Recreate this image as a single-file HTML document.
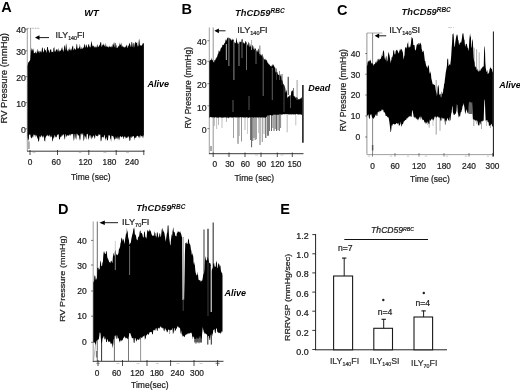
<!DOCTYPE html>
<html>
<head>
<meta charset="utf-8">
<title>Figure</title>
<style>
html,body{margin:0;padding:0;background:#fff;}
body{width:520px;height:390px;overflow:hidden;font-family:"Liberation Sans", sans-serif;}
svg{display:block;font-family:"Liberation Sans", sans-serif;filter:blur(0.4px);}
</style>
</head>
<body>
<svg width="520" height="390" viewBox="0 0 520 390">
<rect x="0" y="0" width="520" height="390" fill="#fff"/>
<text x="1.2" y="12.3" font-size="14.50" text-anchor="start" font-weight="bold" font-style="normal" fill="#000">A</text>
<text x="91.5" y="16.0" font-size="9.40" text-anchor="middle" font-weight="bold" font-style="italic" fill="#000">WT</text>
<line x1="27.3" y1="28.0" x2="27.3" y2="151.0" stroke="#777" stroke-width="0.70"/>
<line x1="27.3" y1="28.3" x2="40.0" y2="28.3" stroke="#777" stroke-width="0.60" stroke-dasharray="1.5 1"/>
<line x1="30.6" y1="28.0" x2="30.6" y2="62.0" stroke="#777" stroke-width="0.70"/>
<line x1="27.0" y1="151.2" x2="144.5" y2="151.2" stroke="#222" stroke-width="0.90"/>
<line x1="37.0" y1="37.6" x2="49.0" y2="37.6" stroke="#000" stroke-width="0.90"/>
<path d="M35.0 37.6 L39.5 35.2 L39.5 40.0 Z" fill="#000"/>
<text x="55.6" y="38.0" font-size="8.80" text-anchor="start" font-weight="normal" font-style="normal" fill="#222" stroke="#222" stroke-width="0.22">ILY<tspan font-size="5.3" dy="2.1">140</tspan><tspan dy="-2.1">FI</tspan></text>
<text x="25.9" y="33.1" font-size="8.70" text-anchor="end" font-weight="normal" font-style="normal" fill="#222" stroke="#222" stroke-width="0.22">40</text>
<text x="25.9" y="54.7" font-size="8.70" text-anchor="end" font-weight="normal" font-style="normal" fill="#222" stroke="#222" stroke-width="0.22">30</text>
<text x="25.9" y="80.5" font-size="8.70" text-anchor="end" font-weight="normal" font-style="normal" fill="#222" stroke="#222" stroke-width="0.22">20</text>
<text x="25.9" y="106.6" font-size="8.70" text-anchor="end" font-weight="normal" font-style="normal" fill="#222" stroke="#222" stroke-width="0.22">10</text>
<text x="25.9" y="132.8" font-size="8.70" text-anchor="end" font-weight="normal" font-style="normal" fill="#222" stroke="#222" stroke-width="0.22">0</text>
<line x1="25.4" y1="29.2" x2="27.3" y2="29.2" stroke="#555" stroke-width="0.70"/>
<line x1="25.4" y1="50.8" x2="27.3" y2="50.8" stroke="#555" stroke-width="0.70"/>
<line x1="25.4" y1="76.6" x2="27.3" y2="76.6" stroke="#555" stroke-width="0.70"/>
<line x1="25.4" y1="102.6" x2="27.3" y2="102.6" stroke="#555" stroke-width="0.70"/>
<line x1="25.4" y1="128.8" x2="27.3" y2="128.8" stroke="#555" stroke-width="0.70"/>
<rect x="28.3" y="141.5" width="1.3" height="7.5" fill="#888"/>
<line x1="30.0" y1="150.0" x2="30.0" y2="155.0" stroke="#222" stroke-width="0.80"/>
<line x1="57.5" y1="150.0" x2="57.5" y2="155.0" stroke="#222" stroke-width="0.80"/>
<line x1="88.8" y1="150.0" x2="88.8" y2="155.0" stroke="#222" stroke-width="0.80"/>
<line x1="116.2" y1="150.0" x2="116.2" y2="155.0" stroke="#222" stroke-width="0.80"/>
<line x1="143.8" y1="150.0" x2="143.8" y2="155.0" stroke="#222" stroke-width="0.80"/>
<text x="30.0" y="165.0" font-size="8.30" text-anchor="middle" font-weight="normal" font-style="normal" fill="#222" stroke="#222" stroke-width="0.22">0</text>
<text x="56.2" y="165.0" font-size="8.30" text-anchor="middle" font-weight="normal" font-style="normal" fill="#222" stroke="#222" stroke-width="0.22">60</text>
<text x="85.5" y="165.0" font-size="8.30" text-anchor="middle" font-weight="normal" font-style="normal" fill="#222" stroke="#222" stroke-width="0.22">120</text>
<text x="109.5" y="165.0" font-size="8.30" text-anchor="middle" font-weight="normal" font-style="normal" fill="#222" stroke="#222" stroke-width="0.22">180</text>
<text x="132.0" y="165.0" font-size="8.30" text-anchor="middle" font-weight="normal" font-style="normal" fill="#222" stroke="#222" stroke-width="0.22">240</text>
<line x1="32.5" y1="152.6" x2="35.5" y2="152.6" stroke="#999" stroke-width="0.50"/>
<line x1="78.5" y1="152.6" x2="81.5" y2="152.6" stroke="#999" stroke-width="0.50"/>
<line x1="103.5" y1="152.6" x2="106.5" y2="152.6" stroke="#999" stroke-width="0.50"/>
<line x1="126.0" y1="152.6" x2="129.0" y2="152.6" stroke="#999" stroke-width="0.50"/>
<text x="90.8" y="180.3" font-size="8.50" text-anchor="middle" font-weight="normal" font-style="normal" fill="#222" stroke="#222" stroke-width="0.22">Time (sec)</text>
<text x="7.2" y="78.3" font-size="8.30" text-anchor="middle" font-weight="normal" font-style="normal" fill="#222" transform="rotate(-90 7.2 78.3)" textLength="90.5" lengthAdjust="spacingAndGlyphs" stroke="#222" stroke-width="0.22">RV Pressure (mmHg)</text>
<text x="147.5" y="87.2" font-size="9.00" text-anchor="start" font-weight="bold" font-style="italic" fill="#000">Alive</text>
<path d="M27.5 66.3 L27.9 64.2 L28.3 62.3 L28.7 62.2 L29.1 61.8 L29.5 60.3 L29.9 61.5 L30.3 59.3 L30.7 54.2 L31.1 47.3 L31.5 51.4 L31.9 48.4 L32.3 49.0 L32.7 50.6 L33.1 50.5 L33.5 48.1 L33.9 53.6 L34.3 52.8 L34.7 52.9 L35.1 53.4 L35.5 51.6 L35.9 52.0 L36.3 53.2 L36.7 53.5 L37.1 48.8 L37.5 52.8 L37.9 48.8 L38.3 51.9 L38.7 50.7 L39.1 53.4 L39.5 51.5 L39.9 50.8 L40.3 52.6 L40.7 50.7 L41.1 50.9 L41.5 52.9 L41.9 48.6 L42.3 47.6 L42.7 47.6 L43.1 51.8 L43.5 51.3 L43.9 52.8 L44.3 47.9 L44.7 48.6 L45.1 50.0 L45.5 50.0 L45.9 50.7 L46.3 53.1 L46.7 51.1 L47.1 47.2 L47.5 47.1 L47.9 47.0 L48.3 50.6 L48.7 49.8 L49.1 52.2 L49.5 52.9 L49.9 50.6 L50.3 48.7 L50.7 50.0 L51.1 49.1 L51.5 52.4 L51.9 51.4 L52.3 51.9 L52.7 51.8 L53.1 52.5 L53.5 47.8 L53.9 48.0 L54.3 46.8 L54.7 51.4 L55.1 51.7 L55.5 51.3 L55.9 50.2 L56.3 49.3 L56.7 49.5 L57.1 49.6 L57.5 49.4 L57.9 52.1 L58.3 51.0 L58.7 47.5 L59.1 51.7 L59.5 49.8 L59.9 52.0 L60.3 49.9 L60.7 51.0 L61.1 50.0 L61.5 47.3 L61.9 49.4 L62.3 46.4 L62.7 50.7 L63.1 48.9 L63.5 51.9 L63.9 50.5 L64.3 44.8 L64.7 46.8 L65.1 44.1 L65.5 51.0 L65.9 47.0 L66.3 42.9 L66.7 47.4 L67.1 51.2 L67.5 49.2 L67.9 51.5 L68.3 51.0 L68.7 48.5 L69.1 49.8 L69.5 49.7 L69.9 46.8 L70.3 51.1 L70.7 49.6 L71.1 48.7 L71.5 50.8 L71.9 48.0 L72.3 46.8 L72.7 45.7 L73.1 45.7 L73.5 50.4 L73.9 49.5 L74.3 48.5 L74.7 48.1 L75.1 50.0 L75.5 49.3 L75.9 49.3 L76.3 46.4 L76.7 43.6 L77.1 44.6 L77.5 48.1 L77.9 48.9 L78.3 48.3 L78.7 48.4 L79.1 47.6 L79.5 46.7 L79.9 43.8 L80.3 47.2 L80.7 49.3 L81.1 49.1 L81.5 48.4 L81.9 46.4 L82.3 48.5 L82.7 48.9 L83.1 47.6 L83.5 47.9 L83.9 46.6 L84.3 44.5 L84.7 43.4 L85.1 47.2 L85.5 47.4 L85.9 44.7 L86.3 44.6 L86.7 45.6 L87.1 47.3 L87.5 47.8 L87.9 46.4 L88.3 44.7 L88.7 44.1 L89.1 44.5 L89.5 47.6 L89.9 46.1 L90.3 47.8 L90.7 46.2 L91.1 42.4 L91.5 40.8 L91.9 43.4 L92.3 45.3 L92.7 46.3 L93.1 46.6 L93.5 46.3 L93.9 45.3 L94.3 47.2 L94.7 47.4 L95.1 45.8 L95.5 47.6 L95.9 47.3 L96.3 47.6 L96.7 46.7 L97.1 44.4 L97.5 44.8 L97.9 47.5 L98.3 46.5 L98.7 46.7 L99.1 46.0 L99.5 44.9 L99.9 44.7 L100.3 42.8 L100.7 42.0 L101.1 42.2 L101.5 46.3 L101.9 47.1 L102.3 44.2 L102.7 45.4 L103.1 44.9 L103.5 44.5 L103.9 43.3 L104.3 45.8 L104.7 45.6 L105.1 47.3 L105.5 45.2 L105.9 42.7 L106.3 46.6 L106.7 46.7 L107.1 45.6 L107.5 47.1 L107.9 47.1 L108.3 47.5 L108.7 47.3 L109.1 45.3 L109.5 47.2 L109.9 46.3 L110.3 47.2 L110.7 46.9 L111.1 45.5 L111.5 47.7 L111.9 46.1 L112.3 47.4 L112.7 44.1 L113.1 44.9 L113.5 42.3 L113.9 45.6 L114.3 47.6 L114.7 42.2 L115.1 42.8 L115.5 43.2 L115.9 47.8 L116.3 48.1 L116.7 44.3 L117.1 46.6 L117.5 48.0 L117.9 48.0 L118.3 45.6 L118.7 46.6 L119.1 46.4 L119.5 42.3 L119.9 45.3 L120.3 45.1 L120.7 44.3 L121.1 42.4 L121.5 44.6 L121.9 47.1 L122.3 46.8 L122.7 45.2 L123.1 46.6 L123.5 46.8 L123.9 47.4 L124.3 47.8 L124.7 46.4 L125.1 47.5 L125.5 46.2 L125.9 46.7 L126.3 45.9 L126.7 44.4 L127.1 45.2 L127.5 48.0 L127.9 47.6 L128.3 45.6 L128.7 45.7 L129.1 44.1 L129.5 42.4 L129.9 43.9 L130.3 44.8 L130.7 46.8 L131.1 47.1 L131.5 41.8 L131.9 42.0 L132.3 42.9 L132.7 46.6 L133.1 47.8 L133.5 43.3 L133.9 42.8 L134.3 43.4 L134.7 47.7 L135.1 43.2 L135.5 41.9 L135.9 41.7 L136.3 43.0 L136.7 42.9 L137.1 42.0 L137.5 47.0 L137.9 45.1 L138.3 46.8 L138.7 41.4 L139.1 38.6 L139.5 41.0 L139.9 45.6 L140.3 45.9 L140.7 44.7 L141.1 45.1 L141.5 45.9 L141.9 45.6 L142.3 42.6 L142.7 45.2 L143.1 43.4 L143.5 43.1 L143.9 43.6 L143.9 134.7 L143.5 135.9 L143.1 138.3 L142.7 137.5 L142.3 135.8 L141.9 136.0 L141.5 136.7 L141.1 135.8 L140.7 135.0 L140.3 136.7 L139.9 138.5 L139.5 137.0 L139.1 135.4 L138.7 138.0 L138.3 136.4 L137.9 135.4 L137.5 135.9 L137.1 136.0 L136.7 136.1 L136.3 137.4 L135.9 137.7 L135.5 137.8 L135.1 137.5 L134.7 137.7 L134.3 140.4 L133.9 136.0 L133.5 136.4 L133.1 135.7 L132.7 136.4 L132.3 137.3 L131.9 135.8 L131.5 138.2 L131.1 137.4 L130.7 136.5 L130.3 140.6 L129.9 140.4 L129.5 141.3 L129.1 137.3 L128.7 135.8 L128.3 137.3 L127.9 137.9 L127.5 136.2 L127.1 137.9 L126.7 137.8 L126.3 138.3 L125.9 136.5 L125.5 139.1 L125.1 136.5 L124.7 137.2 L124.3 135.6 L123.9 139.1 L123.5 138.8 L123.1 136.7 L122.7 136.5 L122.3 136.2 L121.9 136.9 L121.5 136.7 L121.1 137.8 L120.7 135.8 L120.3 136.6 L119.9 136.6 L119.5 138.6 L119.1 140.4 L118.7 138.9 L118.3 137.7 L117.9 136.0 L117.5 140.0 L117.1 137.8 L116.7 139.3 L116.3 136.9 L115.9 138.9 L115.5 138.9 L115.1 136.2 L114.7 141.0 L114.3 139.2 L113.9 138.4 L113.5 136.7 L113.1 136.3 L112.7 136.2 L112.3 135.9 L111.9 135.4 L111.5 135.8 L111.1 142.1 L110.7 139.3 L110.3 138.8 L109.9 136.1 L109.5 135.5 L109.1 135.1 L108.7 135.0 L108.3 136.7 L107.9 140.5 L107.5 140.3 L107.1 140.5 L106.7 136.8 L106.3 138.0 L105.9 141.1 L105.5 138.0 L105.1 139.2 L104.7 134.7 L104.3 135.0 L103.9 137.1 L103.5 136.7 L103.1 138.6 L102.7 137.1 L102.3 136.7 L101.9 137.1 L101.5 140.2 L101.1 141.2 L100.7 141.2 L100.3 134.7 L99.9 134.3 L99.5 135.2 L99.1 134.6 L98.7 134.1 L98.3 135.8 L97.9 136.3 L97.5 135.5 L97.1 136.8 L96.7 135.8 L96.3 136.0 L95.9 135.4 L95.5 134.3 L95.1 137.9 L94.7 139.1 L94.3 137.2 L93.9 135.6 L93.5 135.4 L93.1 136.6 L92.7 138.5 L92.3 136.7 L91.9 136.0 L91.5 138.5 L91.1 139.5 L90.7 136.9 L90.3 134.7 L89.9 136.1 L89.5 134.6 L89.1 138.3 L88.7 138.5 L88.3 140.4 L87.9 134.1 L87.5 134.4 L87.1 133.5 L86.7 134.4 L86.3 139.8 L85.9 138.6 L85.5 136.6 L85.1 136.6 L84.7 135.1 L84.3 138.5 L83.9 141.0 L83.5 140.2 L83.1 133.6 L82.7 133.3 L82.3 134.7 L81.9 135.4 L81.5 133.8 L81.1 133.5 L80.7 133.7 L80.3 140.7 L79.9 137.9 L79.5 141.0 L79.1 135.6 L78.7 134.7 L78.3 136.1 L77.9 135.5 L77.5 134.2 L77.1 133.8 L76.7 133.4 L76.3 139.8 L75.9 138.8 L75.5 137.5 L75.1 133.7 L74.7 133.9 L74.3 138.8 L73.9 141.3 L73.5 138.4 L73.1 133.6 L72.7 134.6 L72.3 133.8 L71.9 134.3 L71.5 134.6 L71.1 133.7 L70.7 134.5 L70.3 136.2 L69.9 133.7 L69.5 136.1 L69.1 134.5 L68.7 136.0 L68.3 135.4 L67.9 135.2 L67.5 135.5 L67.1 135.2 L66.7 136.9 L66.3 136.2 L65.9 133.9 L65.5 134.5 L65.1 138.6 L64.7 139.8 L64.3 137.6 L63.9 135.3 L63.5 134.6 L63.1 134.0 L62.7 135.0 L62.3 136.1 L61.9 134.9 L61.5 136.5 L61.1 136.8 L60.7 137.6 L60.3 136.3 L59.9 139.3 L59.5 139.1 L59.1 140.1 L58.7 134.3 L58.3 134.4 L57.9 134.3 L57.5 135.6 L57.1 134.6 L56.7 137.0 L56.3 137.3 L55.9 137.4 L55.5 137.1 L55.1 135.7 L54.7 134.8 L54.3 136.8 L53.9 138.8 L53.5 137.0 L53.1 139.4 L52.7 141.6 L52.3 140.9 L51.9 136.7 L51.5 137.2 L51.1 135.1 L50.7 136.7 L50.3 137.7 L49.9 134.6 L49.5 137.1 L49.1 134.5 L48.7 135.9 L48.3 136.4 L47.9 135.7 L47.5 135.4 L47.1 134.6 L46.7 135.9 L46.3 135.7 L45.9 137.9 L45.5 136.4 L45.1 142.0 L44.7 140.4 L44.3 141.2 L43.9 135.6 L43.5 137.9 L43.1 135.3 L42.7 137.2 L42.3 137.6 L41.9 135.3 L41.5 136.8 L41.1 134.8 L40.7 136.9 L40.3 137.5 L39.9 135.7 L39.5 137.2 L39.1 140.5 L38.7 141.2 L38.3 142.0 L37.9 138.8 L37.5 138.4 L37.1 137.1 L36.7 134.8 L36.3 137.1 L35.9 134.5 L35.5 137.6 L35.1 134.5 L34.7 135.4 L34.3 134.3 L33.9 137.7 L33.5 134.5 L33.1 134.7 L32.7 138.2 L32.3 136.1 L31.9 138.2 L31.5 138.3 L31.1 137.6 L30.7 137.3 L30.3 134.6 L29.9 134.4 L29.5 135.2 L29.1 133.8 L28.7 142.0 L28.3 138.9 L27.9 140.2 L27.5 135.2Z" fill="#000"/>
<text x="181.5" y="14.0" font-size="14.50" text-anchor="start" font-weight="bold" font-style="normal" fill="#000">B</text>
<text x="235.0" y="16.2" font-size="9.40" text-anchor="start" font-weight="bold" font-style="italic" fill="#111">ThCD59<tspan font-size="6.6" dy="-2.8">RBC</tspan></text>
<line x1="209.3" y1="27.5" x2="209.3" y2="154.0" stroke="#777" stroke-width="0.70"/>
<line x1="213.2" y1="27.5" x2="213.2" y2="153.0" stroke="#666" stroke-width="0.70"/>
<line x1="209.0" y1="153.7" x2="303.5" y2="153.7" stroke="#222" stroke-width="0.90"/>
<line x1="216.4" y1="30.8" x2="225.5" y2="30.8" stroke="#000" stroke-width="0.90"/>
<path d="M214.4 30.8 L218.9 28.4 L218.9 33.2 Z" fill="#000"/>
<text x="237.2" y="32.7" font-size="9.20" text-anchor="start" font-weight="normal" font-style="normal" fill="#222" stroke="#222" stroke-width="0.22">ILY<tspan font-size="5.5" dy="2.1">140</tspan><tspan dy="-2.1">FI</tspan></text>
<text x="206.7" y="44.9" font-size="8.70" text-anchor="end" font-weight="normal" font-style="normal" fill="#222" stroke="#222" stroke-width="0.22">40</text>
<text x="206.7" y="65.3" font-size="8.70" text-anchor="end" font-weight="normal" font-style="normal" fill="#222" stroke="#222" stroke-width="0.22">30</text>
<text x="206.7" y="88.1" font-size="8.70" text-anchor="end" font-weight="normal" font-style="normal" fill="#222" stroke="#222" stroke-width="0.22">20</text>
<text x="206.7" y="110.7" font-size="8.70" text-anchor="end" font-weight="normal" font-style="normal" fill="#222" stroke="#222" stroke-width="0.22">10</text>
<text x="206.7" y="133.2" font-size="8.70" text-anchor="end" font-weight="normal" font-style="normal" fill="#222" stroke="#222" stroke-width="0.22">0</text>
<line x1="207.4" y1="40.7" x2="209.3" y2="40.7" stroke="#555" stroke-width="0.70"/>
<line x1="207.4" y1="61.3" x2="209.3" y2="61.3" stroke="#555" stroke-width="0.70"/>
<line x1="207.4" y1="83.7" x2="209.3" y2="83.7" stroke="#555" stroke-width="0.70"/>
<line x1="207.4" y1="105.8" x2="209.3" y2="105.8" stroke="#555" stroke-width="0.70"/>
<line x1="207.4" y1="128.6" x2="209.3" y2="128.6" stroke="#555" stroke-width="0.70"/>
<line x1="213.2" y1="152.5" x2="213.2" y2="157.0" stroke="#222" stroke-width="0.80"/>
<line x1="229.0" y1="152.5" x2="229.0" y2="157.0" stroke="#222" stroke-width="0.80"/>
<line x1="245.0" y1="152.5" x2="245.0" y2="157.0" stroke="#222" stroke-width="0.80"/>
<line x1="261.0" y1="152.5" x2="261.0" y2="157.0" stroke="#222" stroke-width="0.80"/>
<line x1="277.3" y1="152.5" x2="277.3" y2="157.0" stroke="#222" stroke-width="0.80"/>
<line x1="292.3" y1="152.5" x2="292.3" y2="157.0" stroke="#222" stroke-width="0.80"/>
<text x="214.8" y="167.3" font-size="8.30" text-anchor="middle" font-weight="normal" font-style="normal" fill="#222" stroke="#222" stroke-width="0.22">0</text>
<text x="229.8" y="167.3" font-size="8.30" text-anchor="middle" font-weight="normal" font-style="normal" fill="#222" stroke="#222" stroke-width="0.22">30</text>
<text x="245.3" y="167.3" font-size="8.30" text-anchor="middle" font-weight="normal" font-style="normal" fill="#222" stroke="#222" stroke-width="0.22">60</text>
<text x="261.5" y="167.3" font-size="8.30" text-anchor="middle" font-weight="normal" font-style="normal" fill="#222" stroke="#222" stroke-width="0.22">90</text>
<text x="277.5" y="167.3" font-size="8.30" text-anchor="middle" font-weight="normal" font-style="normal" fill="#222" stroke="#222" stroke-width="0.22">120</text>
<text x="294.5" y="167.3" font-size="8.30" text-anchor="middle" font-weight="normal" font-style="normal" fill="#222" stroke="#222" stroke-width="0.22">150</text>
<line x1="227.3" y1="155.0" x2="230.3" y2="155.0" stroke="#999" stroke-width="0.50"/>
<line x1="255.0" y1="155.0" x2="258.0" y2="155.0" stroke="#999" stroke-width="0.50"/>
<line x1="280.5" y1="155.0" x2="283.5" y2="155.0" stroke="#999" stroke-width="0.50"/>
<rect x="210.3" y="146" width="1.4" height="5" fill="#888"/>
<text x="254.3" y="181.0" font-size="8.50" text-anchor="middle" font-weight="normal" font-style="normal" fill="#222" stroke="#222" stroke-width="0.22">Time (sec)</text>
<text x="190.9" y="87.7" font-size="8.30" text-anchor="middle" font-weight="normal" font-style="normal" fill="#222" transform="rotate(-90 190.9 87.7)" textLength="81.5" lengthAdjust="spacingAndGlyphs" stroke="#222" stroke-width="0.22">RV Pressure (mmHg)</text>
<text x="308.3" y="91.3" font-size="9.00" text-anchor="start" font-weight="bold" font-style="italic" fill="#000">Dead</text>
<line x1="214.3" y1="113.0" x2="214.3" y2="126.0" stroke="#888" stroke-width="0.60"/>
<line x1="216.6" y1="113.0" x2="216.6" y2="129.0" stroke="#999" stroke-width="0.60"/>
<line x1="218.5" y1="113.0" x2="218.5" y2="125.0" stroke="#888" stroke-width="0.60"/>
<line x1="222.0" y1="113.0" x2="222.0" y2="128.0" stroke="#999" stroke-width="0.60"/>
<line x1="226.5" y1="113.0" x2="226.5" y2="122.0" stroke="#888" stroke-width="0.60"/>
<line x1="233.5" y1="113.0" x2="233.5" y2="138.0" stroke="#777" stroke-width="0.70"/>
<line x1="238.0" y1="113.0" x2="238.0" y2="143.8" stroke="#444" stroke-width="0.80"/>
<line x1="239.3" y1="113.0" x2="239.3" y2="136.0" stroke="#888" stroke-width="0.60"/>
<line x1="241.5" y1="113.0" x2="241.5" y2="141.5" stroke="#666" stroke-width="0.70"/>
<line x1="245.0" y1="113.0" x2="245.0" y2="130.0" stroke="#888" stroke-width="0.60"/>
<line x1="247.5" y1="113.0" x2="247.5" y2="134.0" stroke="#999" stroke-width="0.50"/>
<line x1="250.6" y1="113.0" x2="250.6" y2="140.0" stroke="#555" stroke-width="0.90"/>
<line x1="251.6" y1="113.0" x2="251.6" y2="147.3" stroke="#333" stroke-width="0.80"/>
<line x1="252.8" y1="113.0" x2="252.8" y2="141.0" stroke="#555" stroke-width="0.90"/>
<line x1="254.0" y1="113.0" x2="254.0" y2="138.0" stroke="#666" stroke-width="0.90"/>
<line x1="255.2" y1="113.0" x2="255.2" y2="140.0" stroke="#555" stroke-width="0.80"/>
<line x1="256.5" y1="113.0" x2="256.5" y2="139.2" stroke="#777" stroke-width="0.70"/>
<line x1="258.5" y1="113.0" x2="258.5" y2="133.0" stroke="#999" stroke-width="0.50"/>
<line x1="260.0" y1="113.0" x2="260.0" y2="145.0" stroke="#555" stroke-width="0.80"/>
<line x1="262.3" y1="113.0" x2="262.3" y2="142.0" stroke="#666" stroke-width="0.70"/>
<line x1="264.0" y1="113.0" x2="264.0" y2="134.0" stroke="#888" stroke-width="0.60"/>
<line x1="265.8" y1="113.0" x2="265.8" y2="138.0" stroke="#333" stroke-width="0.90"/>
<line x1="268.0" y1="113.0" x2="268.0" y2="135.8" stroke="#222" stroke-width="1.20"/>
<line x1="269.5" y1="113.0" x2="269.5" y2="131.0" stroke="#555" stroke-width="0.80"/>
<line x1="271.5" y1="113.0" x2="271.5" y2="131.0" stroke="#555" stroke-width="0.90"/>
<line x1="272.8" y1="113.0" x2="272.8" y2="128.0" stroke="#777" stroke-width="0.80"/>
<line x1="274.0" y1="113.0" x2="274.0" y2="131.0" stroke="#555" stroke-width="0.90"/>
<line x1="275.3" y1="113.0" x2="275.3" y2="129.0" stroke="#666" stroke-width="0.80"/>
<line x1="276.6" y1="113.0" x2="276.6" y2="131.0" stroke="#444" stroke-width="0.90"/>
<line x1="278.0" y1="113.0" x2="278.0" y2="130.0" stroke="#666" stroke-width="0.80"/>
<line x1="279.3" y1="113.0" x2="279.3" y2="131.0" stroke="#555" stroke-width="0.90"/>
<line x1="280.6" y1="113.0" x2="280.6" y2="128.0" stroke="#666" stroke-width="0.80"/>
<line x1="287.2" y1="113.0" x2="287.2" y2="132.3" stroke="#888" stroke-width="0.60"/>
<line x1="295.8" y1="113.0" x2="295.8" y2="125.4" stroke="#999" stroke-width="0.60"/>
<path d="M209.3 61.4 L209.7 61.1 L210.1 59.7 L210.5 60.0 L210.9 60.6 L211.3 57.4 L211.7 59.7 L212.1 60.2 L212.5 59.4 L212.9 60.7 L213.3 62.4 L213.7 61.7 L214.1 62.4 L214.5 59.7 L214.9 60.2 L215.3 60.3 L215.7 58.6 L216.1 58.4 L216.5 57.8 L216.9 56.7 L217.3 56.4 L217.7 54.3 L218.1 54.2 L218.5 52.2 L218.9 50.1 L219.3 51.1 L219.7 51.7 L220.1 51.3 L220.5 49.0 L220.9 48.2 L221.3 47.3 L221.7 47.7 L222.1 46.7 L222.5 44.6 L222.9 45.0 L223.3 44.9 L223.7 44.8 L224.1 44.2 L224.5 42.7 L224.9 42.9 L225.3 41.4 L225.7 38.9 L226.1 41.1 L226.5 40.1 L226.9 39.2 L227.3 38.3 L227.7 37.4 L228.1 37.5 L228.5 37.7 L228.9 37.7 L229.3 38.5 L229.7 37.7 L230.1 38.4 L230.5 39.7 L230.9 38.3 L231.3 39.9 L231.7 40.8 L232.1 39.4 L232.5 40.0 L232.9 38.6 L233.3 39.6 L233.7 40.3 L234.1 41.8 L234.5 42.4 L234.9 42.8 L235.3 43.3 L235.7 43.0 L236.1 40.1 L236.5 37.2 L236.9 40.8 L237.3 44.2 L237.7 42.1 L238.1 43.1 L238.5 43.7 L238.9 43.9 L239.3 41.0 L239.7 42.5 L240.1 41.9 L240.5 41.4 L240.9 42.2 L241.3 42.1 L241.7 39.1 L242.1 39.5 L242.5 38.4 L242.9 43.0 L243.3 43.2 L243.7 41.4 L244.1 43.9 L244.5 42.8 L244.9 44.1 L245.3 41.1 L245.7 41.5 L246.1 41.6 L246.5 42.8 L246.9 44.5 L247.3 44.0 L247.7 45.3 L248.1 46.1 L248.5 41.8 L248.9 42.4 L249.3 43.5 L249.7 47.1 L250.1 46.7 L250.5 46.1 L250.9 43.9 L251.3 45.1 L251.7 45.2 L252.1 47.9 L252.5 44.7 L252.9 45.6 L253.3 46.6 L253.7 49.0 L254.1 49.7 L254.5 49.6 L254.9 47.5 L255.3 48.4 L255.7 48.7 L256.1 50.6 L256.5 52.0 L256.9 49.9 L257.3 50.2 L257.7 51.6 L258.1 52.6 L258.5 48.4 L258.9 48.7 L259.3 50.2 L259.7 53.2 L260.1 53.6 L260.5 54.4 L260.9 55.3 L261.3 55.8 L261.7 55.0 L262.1 53.7 L262.5 54.8 L262.9 57.6 L263.3 57.7 L263.7 57.7 L264.1 59.2 L264.5 59.7 L264.9 58.7 L265.3 58.8 L265.7 60.3 L266.1 60.0 L266.5 59.5 L266.9 61.2 L267.3 61.6 L267.7 63.0 L268.1 62.7 L268.5 63.9 L268.9 64.2 L269.3 64.4 L269.7 64.7 L270.1 65.9 L270.5 66.3 L270.9 65.5 L271.3 66.8 L271.7 65.9 L272.1 64.1 L272.5 64.9 L272.9 66.1 L273.3 65.5 L273.7 64.1 L274.1 65.7 L274.5 67.2 L274.9 67.6 L275.3 67.7 L275.7 72.3 L276.1 72.4 L276.5 71.8 L276.9 72.0 L277.3 71.7 L277.7 74.1 L278.1 74.5 L278.5 74.9 L278.9 74.8 L279.3 75.4 L279.7 74.1 L280.1 76.7 L280.5 73.8 L280.9 76.0 L281.3 76.2 L281.7 80.1 L282.1 80.4 L282.5 80.5 L282.9 82.7 L283.3 84.5 L283.7 83.8 L284.1 87.3 L284.5 84.5 L284.9 86.6 L285.3 88.4 L285.7 93.2 L286.1 89.2 L286.5 91.1 L286.9 92.1 L287.3 96.9 L287.7 98.1 L288.1 96.7 L288.5 95.7 L288.9 97.0 L289.3 96.2 L289.7 94.7 L290.1 96.5 L290.5 95.3 L290.9 95.4 L291.3 91.0 L291.7 91.7 L292.1 89.7 L292.5 90.7 L292.9 91.2 L293.3 91.7 L293.7 94.4 L294.1 95.8 L294.5 97.0 L294.9 96.1 L295.3 96.9 L295.7 97.9 L296.1 98.6 L296.5 96.9 L296.9 97.1 L297.3 98.1 L297.7 97.4 L298.1 99.2 L298.5 99.6 L298.9 99.0 L299.3 98.8 L299.7 99.7 L300.1 98.1 L300.5 98.4 L300.9 98.9 L301.3 98.3 L301.7 97.0 L302.1 97.7 L302.1 114.2 L301.7 114.6 L301.3 115.3 L300.9 114.4 L300.5 114.5 L300.1 114.3 L299.7 114.5 L299.3 114.3 L298.9 114.7 L298.5 114.6 L298.1 114.3 L297.7 114.7 L297.3 114.1 L296.9 114.1 L296.5 114.1 L296.1 114.1 L295.7 114.4 L295.3 114.2 L294.9 114.8 L294.5 114.1 L294.1 114.5 L293.7 114.2 L293.3 114.5 L292.9 114.7 L292.5 114.1 L292.1 114.1 L291.7 114.7 L291.3 114.3 L290.9 114.4 L290.5 114.2 L290.1 114.5 L289.7 114.2 L289.3 114.6 L288.9 114.0 L288.5 114.6 L288.1 114.6 L287.7 114.1 L287.3 114.1 L286.9 114.1 L286.5 114.0 L286.1 114.4 L285.7 114.1 L285.3 114.0 L284.9 114.4 L284.5 114.2 L284.1 113.9 L283.7 114.0 L283.3 114.2 L282.9 114.8 L282.5 114.1 L282.1 114.7 L281.7 114.5 L281.3 114.7 L280.9 114.3 L280.5 114.3 L280.1 114.5 L279.7 114.3 L279.3 114.3 L278.9 114.5 L278.5 114.9 L278.1 114.8 L277.7 114.7 L277.3 114.8 L276.9 114.7 L276.5 114.5 L276.1 115.0 L275.7 114.4 L275.3 114.7 L274.9 114.7 L274.5 114.6 L274.1 114.7 L273.7 114.8 L273.3 114.6 L272.9 115.6 L272.5 115.3 L272.1 115.4 L271.7 114.9 L271.3 115.8 L270.9 115.3 L270.5 114.9 L270.1 115.3 L269.7 115.2 L269.3 115.0 L268.9 115.5 L268.5 115.7 L268.1 115.1 L267.7 115.5 L267.3 115.5 L266.9 116.2 L266.5 116.9 L266.1 117.0 L265.7 117.9 L265.3 117.7 L264.9 117.5 L264.5 117.3 L264.1 117.9 L263.7 117.7 L263.3 117.3 L262.9 117.2 L262.5 117.4 L262.1 117.3 L261.7 117.8 L261.3 117.2 L260.9 117.6 L260.5 117.4 L260.1 117.6 L259.7 117.1 L259.3 117.6 L258.9 117.6 L258.5 117.5 L258.1 117.7 L257.7 117.3 L257.3 117.7 L256.9 117.1 L256.5 117.3 L256.1 117.7 L255.7 117.1 L255.3 117.7 L254.9 117.2 L254.5 117.3 L254.1 117.3 L253.7 117.9 L253.3 117.6 L252.9 117.1 L252.5 117.3 L252.1 117.6 L251.7 117.2 L251.3 117.2 L250.9 117.2 L250.5 117.3 L250.1 117.5 L249.7 117.3 L249.3 117.6 L248.9 117.5 L248.5 117.9 L248.1 117.7 L247.7 117.4 L247.3 117.6 L246.9 117.1 L246.5 117.8 L246.1 117.1 L245.7 117.7 L245.3 117.3 L244.9 117.9 L244.5 117.2 L244.1 117.3 L243.7 117.3 L243.3 117.7 L242.9 117.7 L242.5 117.2 L242.1 117.1 L241.7 117.6 L241.3 117.2 L240.9 117.1 L240.5 117.6 L240.1 117.2 L239.7 117.4 L239.3 117.2 L238.9 117.5 L238.5 117.7 L238.1 117.1 L237.7 117.3 L237.3 117.4 L236.9 117.5 L236.5 117.6 L236.1 117.2 L235.7 117.4 L235.3 117.5 L234.9 117.2 L234.5 117.5 L234.1 117.1 L233.7 117.3 L233.3 117.3 L232.9 117.7 L232.5 117.6 L232.1 117.5 L231.7 117.4 L231.3 117.4 L230.9 117.6 L230.5 117.3 L230.1 117.3 L229.7 117.1 L229.3 117.7 L228.9 118.4 L228.5 117.7 L228.1 117.6 L227.7 117.4 L227.3 117.7 L226.9 117.3 L226.5 117.9 L226.1 117.6 L225.7 117.7 L225.3 117.1 L224.9 117.2 L224.5 117.3 L224.1 117.8 L223.7 117.1 L223.3 117.9 L222.9 117.7 L222.5 117.8 L222.1 117.3 L221.7 117.5 L221.3 117.7 L220.9 117.6 L220.5 117.4 L220.1 117.3 L219.7 117.2 L219.3 117.6 L218.9 117.2 L218.5 117.4 L218.1 117.9 L217.7 117.6 L217.3 117.7 L216.9 117.5 L216.5 117.2 L216.1 117.5 L215.7 117.4 L215.3 117.1 L214.9 117.3 L214.5 117.8 L214.1 117.4 L213.7 117.6 L213.3 117.2 L212.9 117.1 L212.5 117.4 L212.1 117.7 L211.7 117.1 L211.3 117.5 L210.9 117.1 L210.5 117.1 L210.1 117.2 L209.7 117.7 L209.3 117.6Z" fill="#000"/>
<line x1="288.2" y1="76.8" x2="288.2" y2="95.0" stroke="#222" stroke-width="1.00"/>
<line x1="297.1" y1="80.0" x2="297.1" y2="100.0" stroke="#888" stroke-width="0.80"/>
<line x1="282.0" y1="74.0" x2="282.0" y2="85.0" stroke="#333" stroke-width="0.80"/>
<line x1="276.5" y1="68.5" x2="276.5" y2="80.0" stroke="#444" stroke-width="0.70"/>
<line x1="279.5" y1="71.0" x2="279.5" y2="80.0" stroke="#666" stroke-width="0.70"/>
<line x1="259.8" y1="45.5" x2="259.8" y2="56.0" stroke="#333" stroke-width="0.70"/>
<line x1="293.5" y1="88.0" x2="293.5" y2="96.0" stroke="#555" stroke-width="0.80"/>
<line x1="302.9" y1="85.0" x2="302.9" y2="142.7" stroke="#000" stroke-width="1.40"/>
<line x1="226.4" y1="44.0" x2="226.4" y2="60.0" stroke="#999" stroke-width="1.20"/>
<line x1="228.9" y1="36.5" x2="228.9" y2="66.0" stroke="#eee" stroke-width="0.60"/>
<line x1="233.9" y1="41.0" x2="233.9" y2="80.0" stroke="#eee" stroke-width="0.60"/>
<line x1="239.0" y1="42.0" x2="239.0" y2="66.0" stroke="#aaa" stroke-width="0.80"/>
<line x1="242.0" y1="41.0" x2="242.0" y2="58.0" stroke="#999" stroke-width="0.70"/>
<line x1="246.5" y1="44.0" x2="246.5" y2="70.0" stroke="#bbb" stroke-width="0.60"/>
<line x1="251.5" y1="40.0" x2="251.5" y2="50.0" stroke="#aaa" stroke-width="0.90"/>
<line x1="259.7" y1="46.0" x2="259.7" y2="54.0" stroke="#aaa" stroke-width="0.80"/>
<line x1="263.2" y1="56.0" x2="263.2" y2="96.0" stroke="#999" stroke-width="0.70"/>
<line x1="272.3" y1="68.0" x2="272.3" y2="100.0" stroke="#888" stroke-width="0.70"/>
<line x1="256.0" y1="50.0" x2="256.0" y2="64.0" stroke="#aaa" stroke-width="0.60"/>
<line x1="284.0" y1="86.0" x2="284.0" y2="112.0" stroke="#777" stroke-width="0.60"/>
<line x1="233.0" y1="100.0" x2="233.0" y2="112.0" stroke="#bbb" stroke-width="0.50"/>
<line x1="249.0" y1="96.0" x2="249.0" y2="110.0" stroke="#aaa" stroke-width="0.50"/>
<line x1="290.5" y1="95.0" x2="290.5" y2="108.0" stroke="#888" stroke-width="0.60"/>
<text x="337.0" y="14.8" font-size="14.50" text-anchor="start" font-weight="bold" font-style="normal" fill="#000">C</text>
<text x="401.6" y="15.0" font-size="9.30" text-anchor="start" font-weight="bold" font-style="italic" fill="#111">ThCD59<tspan font-size="6.5" dy="-2.8">RBC</tspan></text>
<line x1="366.9" y1="33.0" x2="366.9" y2="154.0" stroke="#666" stroke-width="0.70"/>
<line x1="366.9" y1="33.0" x2="382.3" y2="33.0" stroke="#777" stroke-width="0.60"/>
<line x1="372.6" y1="33.0" x2="372.6" y2="153.0" stroke="#666" stroke-width="0.80"/>
<line x1="366.6" y1="154.6" x2="493.5" y2="154.6" stroke="#777" stroke-width="0.70"/>
<line x1="493.4" y1="31.5" x2="493.4" y2="156.5" stroke="#111" stroke-width="1.00"/>
<line x1="376.6" y1="35.8" x2="386.2" y2="35.8" stroke="#000" stroke-width="0.90"/>
<path d="M374.6 35.8 L379.1 33.4 L379.1 38.2 Z" fill="#000"/>
<text x="389.2" y="33.3" font-size="9.20" text-anchor="start" font-weight="normal" font-style="normal" fill="#222" stroke="#222" stroke-width="0.22">ILY<tspan font-size="5.5" dy="2.1">140</tspan><tspan dy="-2.1">SI</tspan></text>
<text x="451.2" y="28.6" font-size="3.40" text-anchor="middle" font-weight="bold" font-style="normal" fill="#555">&#183;&#183;&#183;&#183; &#183;</text>
<text x="360.3" y="57.1" font-size="8.50" text-anchor="end" font-weight="normal" font-style="normal" fill="#222" stroke="#222" stroke-width="0.22">40</text>
<text x="360.3" y="77.8" font-size="8.50" text-anchor="end" font-weight="normal" font-style="normal" fill="#222" stroke="#222" stroke-width="0.22">30</text>
<text x="360.3" y="98.1" font-size="8.50" text-anchor="end" font-weight="normal" font-style="normal" fill="#222" stroke="#222" stroke-width="0.22">20</text>
<text x="360.3" y="119.1" font-size="8.50" text-anchor="end" font-weight="normal" font-style="normal" fill="#222" stroke="#222" stroke-width="0.22">10</text>
<text x="360.3" y="140.1" font-size="8.50" text-anchor="end" font-weight="normal" font-style="normal" fill="#222" stroke="#222" stroke-width="0.22">0</text>
<line x1="365.2" y1="53.5" x2="367.0" y2="53.5" stroke="#444" stroke-width="0.70"/>
<line x1="365.2" y1="74.2" x2="367.0" y2="74.2" stroke="#444" stroke-width="0.70"/>
<line x1="365.2" y1="95.0" x2="367.0" y2="95.0" stroke="#444" stroke-width="0.70"/>
<line x1="365.2" y1="116.0" x2="367.0" y2="116.0" stroke="#444" stroke-width="0.70"/>
<line x1="365.2" y1="137.0" x2="367.0" y2="137.0" stroke="#444" stroke-width="0.70"/>
<line x1="372.5" y1="153.0" x2="372.5" y2="156.6" stroke="#555" stroke-width="0.70"/>
<line x1="395.0" y1="153.0" x2="395.0" y2="156.6" stroke="#555" stroke-width="0.70"/>
<line x1="419.0" y1="153.0" x2="419.0" y2="156.6" stroke="#555" stroke-width="0.70"/>
<line x1="444.0" y1="153.0" x2="444.0" y2="156.6" stroke="#555" stroke-width="0.70"/>
<line x1="469.0" y1="153.0" x2="469.0" y2="156.6" stroke="#555" stroke-width="0.70"/>
<line x1="492.5" y1="153.0" x2="492.5" y2="156.6" stroke="#555" stroke-width="0.70"/>
<line x1="367.8" y1="156.2" x2="370.2" y2="156.2" stroke="#999" stroke-width="0.50"/>
<line x1="389.8" y1="156.2" x2="392.2" y2="156.2" stroke="#999" stroke-width="0.50"/>
<line x1="406.8" y1="156.2" x2="409.2" y2="156.2" stroke="#999" stroke-width="0.50"/>
<line x1="424.8" y1="156.2" x2="427.2" y2="156.2" stroke="#999" stroke-width="0.50"/>
<line x1="445.8" y1="156.2" x2="448.2" y2="156.2" stroke="#999" stroke-width="0.50"/>
<line x1="464.8" y1="156.2" x2="467.2" y2="156.2" stroke="#999" stroke-width="0.50"/>
<line x1="486.8" y1="156.2" x2="489.2" y2="156.2" stroke="#999" stroke-width="0.50"/>
<text x="372.5" y="168.5" font-size="8.30" text-anchor="middle" font-weight="normal" font-style="normal" fill="#222" stroke="#222" stroke-width="0.22">0</text>
<text x="395.0" y="168.5" font-size="8.30" text-anchor="middle" font-weight="normal" font-style="normal" fill="#222" stroke="#222" stroke-width="0.22">60</text>
<text x="419.0" y="168.5" font-size="8.30" text-anchor="middle" font-weight="normal" font-style="normal" fill="#222" stroke="#222" stroke-width="0.22">120</text>
<text x="444.0" y="168.5" font-size="8.30" text-anchor="middle" font-weight="normal" font-style="normal" fill="#222" stroke="#222" stroke-width="0.22">180</text>
<text x="469.0" y="168.5" font-size="8.30" text-anchor="middle" font-weight="normal" font-style="normal" fill="#222" stroke="#222" stroke-width="0.22">240</text>
<text x="492.5" y="168.5" font-size="8.30" text-anchor="middle" font-weight="normal" font-style="normal" fill="#222" stroke="#222" stroke-width="0.22">300</text>
<text x="430.0" y="182.3" font-size="8.50" text-anchor="middle" font-weight="normal" font-style="normal" fill="#222" stroke="#222" stroke-width="0.22">Time (sec)</text>
<text x="346.0" y="90.3" font-size="8.30" text-anchor="middle" font-weight="normal" font-style="normal" fill="#222" transform="rotate(-90 346.0 90.3)" textLength="82.5" lengthAdjust="spacingAndGlyphs" stroke="#222" stroke-width="0.22">RV Pressure (mmHg)</text>
<text x="499.3" y="88.2" font-size="9.00" text-anchor="start" font-weight="bold" font-style="italic" fill="#000">Alive</text>
<rect x="371.9" y="145" width="1.4" height="5.5" fill="#555"/>
<line x1="429.2" y1="118.0" x2="429.2" y2="127.7" stroke="#888" stroke-width="0.70"/>
<line x1="436.2" y1="80.0" x2="436.2" y2="134.6" stroke="#888" stroke-width="0.80"/>
<line x1="440.0" y1="100.0" x2="440.0" y2="130.8" stroke="#999" stroke-width="0.80"/>
<line x1="445.4" y1="112.0" x2="445.4" y2="124.6" stroke="#444" stroke-width="0.80"/>
<line x1="473.8" y1="115.0" x2="473.8" y2="126.0" stroke="#777" stroke-width="0.70"/>
<line x1="481.5" y1="115.0" x2="481.5" y2="129.0" stroke="#888" stroke-width="0.70"/>
<line x1="476.5" y1="115.0" x2="476.5" y2="124.0" stroke="#999" stroke-width="0.60"/>
<line x1="486.5" y1="115.0" x2="486.5" y2="126.0" stroke="#999" stroke-width="0.60"/>
<line x1="490.5" y1="118.0" x2="490.5" y2="128.0" stroke="#777" stroke-width="0.60"/>
<line x1="427.5" y1="118.0" x2="427.5" y2="125.0" stroke="#999" stroke-width="0.60"/>
<line x1="474.2" y1="47.7" x2="474.2" y2="70.0" stroke="#888" stroke-width="0.70"/>
<line x1="476.6" y1="49.2" x2="476.6" y2="72.0" stroke="#888" stroke-width="0.70"/>
<line x1="479.2" y1="52.3" x2="479.2" y2="74.0" stroke="#999" stroke-width="0.70"/>
<line x1="433.0" y1="100.0" x2="433.0" y2="126.0" stroke="#999" stroke-width="0.50"/>
<rect x="468.5" y="99" width="3.8" height="15" fill="#666"/>
<path d="M366.9 66.4 L367.3 65.1 L367.7 61.9 L368.1 61.4 L368.5 61.4 L368.9 60.6 L369.3 59.9 L369.7 61.5 L370.1 61.2 L370.5 59.2 L370.9 61.0 L371.3 63.2 L371.7 63.0 L372.1 64.4 L372.5 62.9 L372.9 63.3 L373.3 64.6 L373.7 66.1 L374.1 64.2 L374.5 63.8 L374.9 64.2 L375.3 63.0 L375.7 61.6 L376.1 63.0 L376.5 62.2 L376.9 60.6 L377.3 61.9 L377.7 59.3 L378.1 58.6 L378.5 59.3 L378.9 60.6 L379.3 60.2 L379.7 58.7 L380.1 59.1 L380.5 59.0 L380.9 58.5 L381.3 54.0 L381.7 57.9 L382.1 56.0 L382.5 55.9 L382.9 51.8 L383.3 50.2 L383.7 50.8 L384.1 52.3 L384.5 57.2 L384.9 58.8 L385.3 60.5 L385.7 57.7 L386.1 55.6 L386.5 57.1 L386.9 61.8 L387.3 61.0 L387.7 59.1 L388.1 54.7 L388.5 51.7 L388.9 53.0 L389.3 54.5 L389.7 56.5 L390.1 58.9 L390.5 63.6 L390.9 60.4 L391.3 60.6 L391.7 57.0 L392.1 57.4 L392.5 56.4 L392.9 54.9 L393.3 50.6 L393.7 50.3 L394.1 50.5 L394.5 54.1 L394.9 54.5 L395.3 53.9 L395.7 51.2 L396.1 50.1 L396.5 50.6 L396.9 49.5 L397.3 51.7 L397.7 49.6 L398.1 52.1 L398.5 52.9 L398.9 53.4 L399.3 51.3 L399.7 50.2 L400.1 48.4 L400.5 50.8 L400.9 49.5 L401.3 48.7 L401.7 49.5 L402.1 50.2 L402.5 51.5 L402.9 52.6 L403.3 56.9 L403.7 59.4 L404.1 56.4 L404.5 55.3 L404.9 48.9 L405.3 47.4 L405.7 46.7 L406.1 48.6 L406.5 46.3 L406.9 48.7 L407.3 43.3 L407.7 43.8 L408.1 41.3 L408.5 47.2 L408.9 47.6 L409.3 46.1 L409.7 47.7 L410.1 47.2 L410.5 45.7 L410.9 43.5 L411.3 39.8 L411.7 36.6 L412.1 38.6 L412.5 37.4 L412.9 39.0 L413.3 45.0 L413.7 44.9 L414.1 45.3 L414.5 44.7 L414.9 49.0 L415.3 50.1 L415.7 50.7 L416.1 48.8 L416.5 46.1 L416.9 44.5 L417.3 44.2 L417.7 44.4 L418.1 43.1 L418.5 43.0 L418.9 45.5 L419.3 44.6 L419.7 43.3 L420.1 42.6 L420.5 43.3 L420.9 44.0 L421.3 45.0 L421.7 49.2 L422.1 50.0 L422.5 52.0 L422.9 52.1 L423.3 50.5 L423.7 51.5 L424.1 54.2 L424.5 57.7 L424.9 61.2 L425.3 61.0 L425.7 63.5 L426.1 65.3 L426.5 66.5 L426.9 66.8 L427.3 68.5 L427.7 67.2 L428.1 64.6 L428.5 66.1 L428.9 66.2 L429.3 70.9 L429.7 73.5 L430.1 73.7 L430.5 71.2 L430.9 73.3 L431.3 78.1 L431.7 80.0 L432.1 81.5 L432.5 83.6 L432.9 84.5 L433.3 84.6 L433.7 84.1 L434.1 85.3 L434.5 85.1 L434.9 84.5 L435.3 86.9 L435.7 90.1 L436.1 92.1 L436.5 93.3 L436.9 96.3 L437.3 93.4 L437.7 87.1 L438.1 84.9 L438.5 85.8 L438.9 88.3 L439.3 95.6 L439.7 94.2 L440.1 93.8 L440.5 93.7 L440.9 97.5 L441.3 97.0 L441.7 91.6 L442.1 92.1 L442.5 94.0 L442.9 93.8 L443.3 88.9 L443.7 88.0 L444.1 83.7 L444.5 83.4 L444.9 79.3 L445.3 76.5 L445.7 72.8 L446.1 70.6 L446.5 68.5 L446.9 66.0 L447.3 58.1 L447.7 59.5 L448.1 58.5 L448.5 65.8 L448.9 66.0 L449.3 64.3 L449.7 64.2 L450.1 65.6 L450.5 62.7 L450.9 59.6 L451.3 54.5 L451.7 47.4 L452.1 42.4 L452.5 34.2 L452.9 33.9 L453.3 33.0 L453.7 35.8 L454.1 42.6 L454.5 47.1 L454.9 46.5 L455.3 42.0 L455.7 39.4 L456.1 37.2 L456.5 35.5 L456.9 34.6 L457.3 34.4 L457.7 36.3 L458.1 39.7 L458.5 40.5 L458.9 43.9 L459.3 45.2 L459.7 43.1 L460.1 43.2 L460.5 41.4 L460.9 43.0 L461.3 41.9 L461.7 39.8 L462.1 37.1 L462.5 32.6 L462.9 34.4 L463.3 32.7 L463.7 36.2 L464.1 39.6 L464.5 39.7 L464.9 44.7 L465.3 47.0 L465.7 44.3 L466.1 43.7 L466.5 43.8 L466.9 44.4 L467.3 46.3 L467.7 48.2 L468.1 48.1 L468.5 51.3 L468.9 48.1 L469.3 39.9 L469.7 36.4 L470.1 33.3 L470.5 37.5 L470.9 35.8 L471.3 47.5 L471.7 47.4 L472.1 41.1 L472.5 38.8 L472.9 42.0 L473.3 50.8 L473.7 58.0 L474.1 61.3 L474.5 61.8 L474.9 67.1 L475.3 67.4 L475.7 66.0 L476.1 66.7 L476.5 69.4 L476.9 70.1 L477.3 68.5 L477.7 70.5 L478.1 71.5 L478.5 70.2 L478.9 72.3 L479.3 69.6 L479.7 71.4 L480.1 70.9 L480.5 70.3 L480.9 68.7 L481.3 68.0 L481.7 69.6 L482.1 66.2 L482.5 67.8 L482.9 67.0 L483.3 66.4 L483.7 66.2 L484.1 51.4 L484.5 47.1 L484.9 46.1 L485.3 61.4 L485.7 67.6 L486.1 69.8 L486.5 71.6 L486.9 72.3 L487.3 69.4 L487.7 74.2 L488.1 73.7 L488.5 72.3 L488.9 73.9 L489.3 71.0 L489.7 69.1 L490.1 67.9 L490.5 68.1 L490.9 66.5 L491.3 69.4 L491.7 68.6 L492.1 69.6 L492.5 72.4 L492.9 71.2 L492.9 126.1 L492.5 126.6 L492.1 126.5 L491.7 124.1 L491.3 123.8 L490.9 125.3 L490.5 125.2 L490.1 124.2 L489.7 126.3 L489.3 125.8 L488.9 125.4 L488.5 121.6 L488.1 122.5 L487.7 121.9 L487.3 120.0 L486.9 120.5 L486.5 120.5 L486.1 119.8 L485.7 121.4 L485.3 112.7 L484.9 100.3 L484.5 99.3 L484.1 107.2 L483.7 119.7 L483.3 120.9 L482.9 120.7 L482.5 120.8 L482.1 122.1 L481.7 120.9 L481.3 121.3 L480.9 121.6 L480.5 124.3 L480.1 124.2 L479.7 126.0 L479.3 121.3 L478.9 125.9 L478.5 124.5 L478.1 125.9 L477.7 122.2 L477.3 120.9 L476.9 120.3 L476.5 120.8 L476.1 120.0 L475.7 119.9 L475.3 121.8 L474.9 120.0 L474.5 120.3 L474.1 119.3 L473.7 119.2 L473.3 119.6 L472.9 119.4 L472.5 113.2 L472.1 101.8 L471.7 102.3 L471.3 103.4 L470.9 101.6 L470.5 102.1 L470.1 102.7 L469.7 101.2 L469.3 102.3 L468.9 102.9 L468.5 113.6 L468.1 112.6 L467.7 113.5 L467.3 111.9 L466.9 111.1 L466.5 110.1 L466.1 109.3 L465.7 114.3 L465.3 113.1 L464.9 111.7 L464.5 107.8 L464.1 105.7 L463.7 103.1 L463.3 104.9 L462.9 105.5 L462.5 106.5 L462.1 109.2 L461.7 110.3 L461.3 112.2 L460.9 111.7 L460.5 113.8 L460.1 116.4 L459.7 115.4 L459.3 116.7 L458.9 117.5 L458.5 116.3 L458.1 113.5 L457.7 112.3 L457.3 105.6 L456.9 104.0 L456.5 110.7 L456.1 112.2 L455.7 114.1 L455.3 113.5 L454.9 114.4 L454.5 115.0 L454.1 114.5 L453.7 114.7 L453.3 113.2 L452.9 112.1 L452.5 105.9 L452.1 106.7 L451.7 112.3 L451.3 113.3 L450.9 116.0 L450.5 120.0 L450.1 120.6 L449.7 121.4 L449.3 116.7 L448.9 120.0 L448.5 120.8 L448.1 120.1 L447.7 117.7 L447.3 118.4 L446.9 119.6 L446.5 120.9 L446.1 121.4 L445.7 120.6 L445.3 119.9 L444.9 122.4 L444.5 119.5 L444.1 117.7 L443.7 119.3 L443.3 117.7 L442.9 119.4 L442.5 117.4 L442.1 118.6 L441.7 116.9 L441.3 121.1 L440.9 120.0 L440.5 121.5 L440.1 118.1 L439.7 118.3 L439.3 116.7 L438.9 117.9 L438.5 117.2 L438.1 116.6 L437.7 116.5 L437.3 116.5 L436.9 117.7 L436.5 117.1 L436.1 117.7 L435.7 116.9 L435.3 116.3 L434.9 116.5 L434.5 116.9 L434.1 118.9 L433.7 120.9 L433.3 119.6 L432.9 118.2 L432.5 119.9 L432.1 119.4 L431.7 119.4 L431.3 118.6 L430.9 120.6 L430.5 120.7 L430.1 120.5 L429.7 119.2 L429.3 124.2 L428.9 123.5 L428.5 123.9 L428.1 122.0 L427.7 121.5 L427.3 122.2 L426.9 123.9 L426.5 122.4 L426.1 122.8 L425.7 123.9 L425.3 122.0 L424.9 122.0 L424.5 123.0 L424.1 120.7 L423.7 120.0 L423.3 119.7 L422.9 120.6 L422.5 119.8 L422.1 118.7 L421.7 118.4 L421.3 117.1 L420.9 116.1 L420.5 120.2 L420.1 116.3 L419.7 117.2 L419.3 117.4 L418.9 120.0 L418.5 117.9 L418.1 120.6 L417.7 120.0 L417.3 119.0 L416.9 118.6 L416.5 119.5 L416.1 118.1 L415.7 118.5 L415.3 116.6 L414.9 118.6 L414.5 116.4 L414.1 117.4 L413.7 116.9 L413.3 114.3 L412.9 112.4 L412.5 110.5 L412.1 110.3 L411.7 116.2 L411.3 117.1 L410.9 116.8 L410.5 115.5 L410.1 116.9 L409.7 116.1 L409.3 116.6 L408.9 116.5 L408.5 116.9 L408.1 117.7 L407.7 117.4 L407.3 118.7 L406.9 118.1 L406.5 118.9 L406.1 119.9 L405.7 120.1 L405.3 119.8 L404.9 120.7 L404.5 121.4 L404.1 120.6 L403.7 122.1 L403.3 123.0 L402.9 124.3 L402.5 123.9 L402.1 124.7 L401.7 125.9 L401.3 127.1 L400.9 121.6 L400.5 123.6 L400.1 124.4 L399.7 126.1 L399.3 124.8 L398.9 126.1 L398.5 122.2 L398.1 124.3 L397.7 123.1 L397.3 124.4 L396.9 123.0 L396.5 123.3 L396.1 123.2 L395.7 124.5 L395.3 124.1 L394.9 123.9 L394.5 124.6 L394.1 124.6 L393.7 124.0 L393.3 123.7 L392.9 124.0 L392.5 125.1 L392.1 126.1 L391.7 124.9 L391.3 129.5 L390.9 131.9 L390.5 132.1 L390.1 127.9 L389.7 124.6 L389.3 121.5 L388.9 119.3 L388.5 116.9 L388.1 117.7 L387.7 117.2 L387.3 116.8 L386.9 116.3 L386.5 115.8 L386.1 115.9 L385.7 116.0 L385.3 114.1 L384.9 112.9 L384.5 112.1 L384.1 112.6 L383.7 111.9 L383.3 110.3 L382.9 109.3 L382.5 110.6 L382.1 109.5 L381.7 109.5 L381.3 111.1 L380.9 110.9 L380.5 110.9 L380.1 111.7 L379.7 110.2 L379.3 112.4 L378.9 112.4 L378.5 111.8 L378.1 111.4 L377.7 112.4 L377.3 116.2 L376.9 115.4 L376.5 115.9 L376.1 113.5 L375.7 115.2 L375.3 115.2 L374.9 116.8 L374.5 117.4 L374.1 117.6 L373.7 118.1 L373.3 119.3 L372.9 118.3 L372.5 117.6 L372.1 117.7 L371.7 115.9 L371.3 114.3 L370.9 113.9 L370.5 115.5 L370.1 114.6 L369.7 119.3 L369.3 118.6 L368.9 118.0 L368.5 114.6 L368.1 114.6 L367.7 115.2 L367.3 116.1 L366.9 114.8Z" fill="#000"/>
<text x="58.0" y="214.3" font-size="14.50" text-anchor="start" font-weight="bold" font-style="normal" fill="#000">D</text>
<text x="136.2" y="211.4" font-size="9.30" text-anchor="start" font-weight="bold" font-style="italic" fill="#111">ThCD59<tspan font-size="6.5" dy="-2.8">RBC</tspan></text>
<line x1="93.2" y1="221.5" x2="93.2" y2="362.0" stroke="#777" stroke-width="0.70"/>
<line x1="97.3" y1="221.5" x2="97.3" y2="361.0" stroke="#444" stroke-width="0.80"/>
<line x1="92.8" y1="361.3" x2="223.5" y2="361.3" stroke="#222" stroke-width="0.90"/>
<line x1="101.4" y1="222.7" x2="118.0" y2="222.7" stroke="#000" stroke-width="0.90"/>
<path d="M99.4 222.7 L104.8 220.4 L104.8 225.0 Z" fill="#000"/>
<text x="122.0" y="225.3" font-size="9.20" text-anchor="start" font-weight="normal" font-style="normal" fill="#222" stroke="#222" stroke-width="0.22">ILY<tspan font-size="5.5" dy="2.1">70</tspan><tspan dy="-2.1">FI</tspan></text>
<text x="86.8" y="243.7" font-size="8.50" text-anchor="end" font-weight="normal" font-style="normal" fill="#222" stroke="#222" stroke-width="0.22">40</text>
<text x="86.8" y="268.6" font-size="8.50" text-anchor="end" font-weight="normal" font-style="normal" fill="#222" stroke="#222" stroke-width="0.22">30</text>
<text x="86.8" y="294.1" font-size="8.50" text-anchor="end" font-weight="normal" font-style="normal" fill="#222" stroke="#222" stroke-width="0.22">20</text>
<text x="86.8" y="319.4" font-size="8.50" text-anchor="end" font-weight="normal" font-style="normal" fill="#222" stroke="#222" stroke-width="0.22">10</text>
<text x="86.8" y="345.4" font-size="8.50" text-anchor="end" font-weight="normal" font-style="normal" fill="#222" stroke="#222" stroke-width="0.22">0</text>
<line x1="91.0" y1="240.4" x2="93.2" y2="240.4" stroke="#444" stroke-width="0.70"/>
<line x1="91.0" y1="265.0" x2="93.2" y2="265.0" stroke="#444" stroke-width="0.70"/>
<line x1="91.0" y1="291.0" x2="93.2" y2="291.0" stroke="#444" stroke-width="0.70"/>
<line x1="91.0" y1="316.2" x2="93.2" y2="316.2" stroke="#444" stroke-width="0.70"/>
<line x1="91.0" y1="342.3" x2="93.2" y2="342.3" stroke="#444" stroke-width="0.70"/>
<line x1="98.0" y1="360.0" x2="98.0" y2="366.0" stroke="#222" stroke-width="0.80"/>
<line x1="122.5" y1="360.0" x2="122.5" y2="366.0" stroke="#222" stroke-width="0.80"/>
<line x1="147.0" y1="360.0" x2="147.0" y2="366.0" stroke="#222" stroke-width="0.80"/>
<line x1="170.6" y1="360.0" x2="170.6" y2="366.0" stroke="#222" stroke-width="0.80"/>
<line x1="194.0" y1="360.0" x2="194.0" y2="366.0" stroke="#222" stroke-width="0.80"/>
<line x1="217.6" y1="360.0" x2="217.6" y2="366.0" stroke="#222" stroke-width="0.80"/>
<line x1="96.3" y1="363.3" x2="99.7" y2="363.3" stroke="#444" stroke-width="0.60"/>
<line x1="215.6" y1="363.3" x2="219.6" y2="363.3" stroke="#333" stroke-width="0.70"/>
<line x1="116.5" y1="363.5" x2="119.5" y2="363.5" stroke="#999" stroke-width="0.50"/>
<line x1="136.5" y1="363.5" x2="139.5" y2="363.5" stroke="#999" stroke-width="0.50"/>
<line x1="155.8" y1="363.5" x2="158.8" y2="363.5" stroke="#999" stroke-width="0.50"/>
<line x1="176.5" y1="363.5" x2="179.5" y2="363.5" stroke="#999" stroke-width="0.50"/>
<line x1="199.5" y1="363.5" x2="202.5" y2="363.5" stroke="#999" stroke-width="0.50"/>
<text x="97.0" y="376.0" font-size="8.30" text-anchor="middle" font-weight="normal" font-style="normal" fill="#222" stroke="#222" stroke-width="0.22">0</text>
<text x="116.6" y="376.0" font-size="8.30" text-anchor="middle" font-weight="normal" font-style="normal" fill="#222" stroke="#222" stroke-width="0.22">60</text>
<text x="137.2" y="376.0" font-size="8.30" text-anchor="middle" font-weight="normal" font-style="normal" fill="#222" stroke="#222" stroke-width="0.22">120</text>
<text x="156.8" y="376.0" font-size="8.30" text-anchor="middle" font-weight="normal" font-style="normal" fill="#222" stroke="#222" stroke-width="0.22">180</text>
<text x="177.4" y="376.0" font-size="8.30" text-anchor="middle" font-weight="normal" font-style="normal" fill="#222" stroke="#222" stroke-width="0.22">240</text>
<text x="197.0" y="376.0" font-size="8.30" text-anchor="middle" font-weight="normal" font-style="normal" fill="#222" stroke="#222" stroke-width="0.22">300</text>
<text x="149.8" y="387.5" font-size="8.50" text-anchor="middle" font-weight="normal" font-style="normal" fill="#222" stroke="#222" stroke-width="0.22">Time(sec)</text>
<text x="64.6" y="278.6" font-size="8.00" text-anchor="middle" font-weight="normal" font-style="normal" fill="#222" transform="rotate(-90 64.6 278.6)" textLength="86.5" lengthAdjust="spacingAndGlyphs" stroke="#222" stroke-width="0.22">RV Pressure (mmHg)</text>
<text x="224.5" y="296.3" font-size="9.00" text-anchor="start" font-weight="bold" font-style="italic" fill="#000">Alive</text>
<line x1="101.6" y1="330.0" x2="101.6" y2="361.0" stroke="#333" stroke-width="1.00"/>
<line x1="114.4" y1="330.0" x2="114.4" y2="361.0" stroke="#444" stroke-width="0.80"/>
<line x1="128.5" y1="330.0" x2="128.5" y2="361.0" stroke="#555" stroke-width="0.80"/>
<line x1="140.6" y1="330.0" x2="140.6" y2="361.0" stroke="#777" stroke-width="0.80"/>
<line x1="93.6" y1="360" x2="96.8" y2="336" stroke="#888" stroke-width="0.6"/>
<rect x="95.9" y="351" width="1.2" height="6.5" fill="#777"/>
<rect x="194.2" y="330" width="7.8" height="12.5" fill="#555"/>
<line x1="207.8" y1="320.0" x2="207.8" y2="344.6" stroke="#222" stroke-width="1.00"/>
<line x1="211.3" y1="320.0" x2="211.3" y2="344.6" stroke="#222" stroke-width="1.00"/>
<line x1="209.5" y1="320.0" x2="209.5" y2="340.0" stroke="#555" stroke-width="0.80"/>
<line x1="169.6" y1="320.0" x2="169.6" y2="334.0" stroke="#555" stroke-width="0.60"/>
<line x1="196.0" y1="320.0" x2="196.0" y2="344.0" stroke="#666" stroke-width="0.80"/>
<line x1="199.0" y1="320.0" x2="199.0" y2="343.5" stroke="#777" stroke-width="0.80"/>
<line x1="204.0" y1="229.6" x2="204.0" y2="330.0" stroke="#666" stroke-width="1.30"/>
<line x1="208.0" y1="228.8" x2="208.0" y2="330.0" stroke="#777" stroke-width="2.00"/>
<line x1="213.2" y1="222.4" x2="213.2" y2="330.0" stroke="#444" stroke-width="1.20"/>
<path d="M93.3 282.6 L93.7 281.7 L94.1 280.4 L94.5 274.6 L94.9 276.3 L95.3 276.0 L95.7 279.5 L96.1 279.9 L96.5 278.3 L96.9 278.8 L97.3 268.0 L97.7 268.1 L98.1 267.4 L98.5 267.9 L98.9 269.9 L99.3 269.0 L99.7 269.3 L100.1 263.2 L100.5 261.3 L100.9 260.5 L101.3 266.5 L101.7 265.8 L102.1 265.8 L102.5 262.2 L102.9 262.1 L103.3 255.6 L103.7 252.1 L104.1 251.2 L104.5 252.6 L104.9 253.8 L105.3 254.0 L105.7 253.9 L106.1 250.9 L106.5 251.3 L106.9 253.1 L107.3 257.3 L107.7 258.2 L108.1 259.2 L108.5 259.8 L108.9 261.2 L109.3 262.3 L109.7 262.1 L110.1 263.2 L110.5 262.2 L110.9 261.1 L111.3 261.6 L111.7 260.2 L112.1 263.0 L112.5 262.2 L112.9 256.7 L113.3 255.0 L113.7 252.5 L114.1 254.7 L114.5 256.2 L114.9 251.6 L115.3 249.7 L115.7 251.1 L116.1 253.7 L116.5 255.2 L116.9 254.0 L117.3 255.5 L117.7 254.7 L118.1 253.9 L118.5 252.7 L118.9 249.3 L119.3 248.8 L119.7 247.7 L120.1 246.4 L120.5 243.1 L120.9 242.3 L121.3 237.3 L121.7 238.4 L122.1 238.4 L122.5 239.7 L122.9 241.5 L123.3 238.6 L123.7 239.6 L124.1 241.6 L124.5 244.3 L124.9 241.3 L125.3 238.1 L125.7 235.7 L126.1 232.6 L126.5 234.7 L126.9 227.5 L127.3 231.4 L127.7 231.5 L128.1 237.0 L128.5 238.6 L128.9 240.1 L129.3 243.4 L129.7 245.2 L130.1 243.1 L130.5 243.5 L130.9 242.1 L131.3 239.3 L131.7 237.3 L132.1 235.3 L132.5 233.9 L132.9 232.4 L133.3 229.4 L133.7 228.6 L134.1 227.6 L134.5 229.5 L134.9 234.4 L135.3 234.5 L135.7 235.1 L136.1 236.3 L136.5 239.0 L136.9 239.8 L137.3 240.4 L137.7 239.6 L138.1 237.3 L138.5 237.0 L138.9 236.3 L139.3 235.2 L139.7 231.7 L140.1 230.8 L140.5 230.4 L140.9 233.4 L141.3 232.8 L141.7 233.0 L142.1 233.8 L142.5 234.7 L142.9 237.0 L143.3 237.5 L143.7 237.3 L144.1 232.1 L144.5 231.2 L144.9 232.6 L145.3 236.7 L145.7 237.6 L146.1 237.2 L146.5 238.9 L146.9 234.0 L147.3 230.3 L147.7 229.7 L148.1 232.3 L148.5 230.4 L148.9 231.2 L149.3 231.3 L149.7 228.9 L150.1 230.3 L150.5 230.9 L150.9 231.6 L151.3 233.2 L151.7 234.4 L152.1 235.5 L152.5 235.4 L152.9 235.9 L153.3 235.6 L153.7 235.2 L154.1 236.3 L154.5 230.9 L154.9 232.7 L155.3 233.3 L155.7 236.3 L156.1 236.2 L156.5 237.7 L156.9 232.6 L157.3 232.2 L157.7 233.1 L158.1 235.7 L158.5 236.9 L158.9 237.9 L159.3 234.6 L159.7 232.9 L160.1 233.5 L160.5 236.7 L160.9 236.9 L161.3 234.1 L161.7 229.6 L162.1 229.3 L162.5 227.4 L162.9 232.2 L163.3 231.8 L163.7 230.0 L164.1 232.3 L164.5 233.8 L164.9 236.2 L165.3 238.8 L165.7 241.8 L166.1 239.1 L166.5 236.1 L166.9 233.6 L167.3 232.2 L167.7 225.7 L168.1 225.1 L168.5 226.0 L168.9 234.1 L169.3 238.5 L169.7 241.2 L170.1 245.1 L170.5 245.2 L170.9 240.4 L171.3 237.2 L171.7 233.8 L172.1 236.3 L172.5 231.7 L172.9 229.3 L173.3 226.9 L173.7 231.0 L174.1 232.4 L174.5 231.8 L174.9 233.2 L175.3 236.2 L175.7 235.5 L176.1 236.5 L176.5 236.0 L176.9 233.0 L177.3 233.1 L177.7 231.6 L178.1 231.2 L178.5 232.0 L178.9 231.4 L179.3 232.5 L179.7 232.0 L180.1 231.1 L180.5 232.8 L180.9 233.3 L181.3 234.5 L181.7 236.3 L182.1 237.5 L182.5 299.9 L182.9 299.9 L183.3 300.2 L183.7 298.6 L184.1 299.9 L184.5 279.8 L184.9 254.0 L185.3 243.5 L185.7 243.1 L186.1 242.4 L186.5 242.4 L186.9 243.9 L187.3 244.0 L187.7 243.3 L188.1 239.8 L188.5 239.4 L188.9 238.2 L189.3 244.5 L189.7 243.0 L190.1 244.5 L190.5 245.9 L190.9 249.6 L191.3 250.4 L191.7 254.1 L192.1 255.8 L192.5 252.7 L192.9 254.8 L193.3 257.1 L193.7 264.4 L194.1 261.8 L194.5 264.3 L194.9 265.3 L195.3 270.3 L195.7 272.7 L196.1 274.1 L196.5 275.0 L196.9 275.7 L197.3 271.6 L197.7 274.8 L198.1 275.2 L198.5 279.8 L198.9 279.8 L199.3 279.9 L199.7 279.9 L200.1 282.0 L200.5 280.8 L200.9 280.2 L201.3 280.6 L201.7 281.5 L202.1 280.7 L202.5 279.3 L202.9 276.9 L203.3 273.9 L203.7 274.4 L204.1 272.4 L204.5 269.9 L204.9 261.0 L205.3 258.3 L205.7 255.8 L206.1 261.3 L206.5 259.8 L206.9 260.2 L207.3 259.6 L207.7 256.5 L208.1 258.2 L208.5 260.3 L208.9 261.5 L209.3 263.3 L209.7 263.0 L210.1 262.8 L210.5 264.1 L210.9 265.7 L211.3 269.9 L211.7 271.2 L212.1 268.5 L212.5 268.9 L212.9 267.7 L213.3 263.2 L213.7 263.6 L214.1 263.0 L214.5 265.8 L214.9 267.0 L215.3 266.4 L215.7 266.9 L216.1 260.3 L216.5 262.3 L216.9 262.4 L217.3 268.1 L217.7 268.1 L218.1 264.4 L218.5 263.3 L218.9 263.3 L219.3 267.6 L219.7 263.9 L220.1 265.3 L220.5 266.3 L220.9 270.4 L221.3 272.0 L221.7 272.7 L222.1 272.8 L222.5 275.5 L222.5 331.5 L222.1 331.7 L221.7 331.0 L221.3 333.1 L220.9 332.3 L220.5 333.7 L220.1 333.5 L219.7 332.7 L219.3 332.9 L218.9 332.3 L218.5 332.8 L218.1 333.2 L217.7 331.8 L217.3 332.3 L216.9 329.0 L216.5 328.3 L216.1 328.5 L215.7 333.3 L215.3 332.9 L214.9 332.4 L214.5 329.4 L214.1 328.9 L213.7 329.5 L213.3 330.0 L212.9 333.3 L212.5 334.3 L212.1 336.4 L211.7 333.2 L211.3 334.8 L210.9 334.4 L210.5 335.7 L210.1 340.1 L209.7 338.1 L209.3 338.5 L208.9 336.0 L208.5 335.9 L208.1 336.0 L207.7 337.6 L207.3 334.5 L206.9 335.1 L206.5 334.1 L206.1 334.0 L205.7 333.2 L205.3 334.3 L204.9 331.9 L204.5 334.3 L204.1 332.8 L203.7 331.5 L203.3 329.5 L202.9 326.9 L202.5 329.7 L202.1 334.3 L201.7 339.5 L201.3 338.1 L200.9 338.8 L200.5 336.2 L200.1 336.3 L199.7 336.3 L199.3 338.1 L198.9 337.2 L198.5 339.0 L198.1 338.8 L197.7 338.0 L197.3 338.8 L196.9 337.6 L196.5 337.5 L196.1 339.5 L195.7 338.9 L195.3 338.8 L194.9 338.9 L194.5 339.0 L194.1 337.3 L193.7 337.1 L193.3 336.3 L192.9 339.5 L192.5 337.0 L192.1 335.9 L191.7 332.2 L191.3 333.8 L190.9 332.6 L190.5 333.6 L190.1 332.4 L189.7 333.2 L189.3 333.7 L188.9 333.3 L188.5 333.9 L188.1 332.9 L187.7 334.7 L187.3 333.0 L186.9 334.5 L186.5 334.7 L186.1 333.8 L185.7 335.3 L185.3 334.8 L184.9 336.6 L184.5 336.8 L184.1 337.2 L183.7 335.7 L183.3 335.9 L182.9 336.8 L182.5 335.9 L182.1 334.2 L181.7 330.3 L181.3 334.8 L180.9 333.8 L180.5 332.6 L180.1 328.7 L179.7 327.6 L179.3 328.2 L178.9 326.6 L178.5 328.1 L178.1 326.6 L177.7 326.8 L177.3 326.0 L176.9 328.9 L176.5 328.0 L176.1 329.2 L175.7 330.8 L175.3 330.3 L174.9 331.9 L174.5 327.8 L174.1 327.9 L173.7 332.2 L173.3 333.6 L172.9 334.0 L172.5 328.4 L172.1 328.2 L171.7 330.1 L171.3 329.9 L170.9 330.2 L170.5 330.6 L170.1 329.5 L169.7 330.2 L169.3 330.3 L168.9 329.2 L168.5 330.0 L168.1 329.4 L167.7 332.5 L167.3 331.6 L166.9 332.6 L166.5 330.3 L166.1 330.2 L165.7 329.6 L165.3 328.3 L164.9 328.6 L164.5 331.6 L164.1 330.5 L163.7 330.4 L163.3 327.8 L162.9 328.7 L162.5 328.1 L162.1 327.6 L161.7 327.8 L161.3 327.3 L160.9 327.5 L160.5 326.4 L160.1 326.3 L159.7 328.2 L159.3 328.6 L158.9 328.5 L158.5 327.9 L158.1 327.5 L157.7 330.0 L157.3 331.2 L156.9 330.6 L156.5 328.6 L156.1 328.1 L155.7 328.6 L155.3 330.8 L154.9 329.7 L154.5 330.7 L154.1 329.6 L153.7 330.6 L153.3 329.9 L152.9 334.0 L152.5 334.4 L152.1 333.9 L151.7 331.9 L151.3 331.7 L150.9 332.3 L150.5 332.0 L150.1 332.0 L149.7 332.2 L149.3 332.9 L148.9 334.0 L148.5 334.9 L148.1 334.5 L147.7 334.3 L147.3 333.4 L146.9 335.4 L146.5 334.8 L146.1 335.9 L145.7 338.7 L145.3 338.5 L144.9 340.0 L144.5 334.8 L144.1 336.3 L143.7 336.0 L143.3 336.6 L142.9 336.8 L142.5 336.8 L142.1 338.3 L141.7 337.7 L141.3 337.9 L140.9 336.8 L140.5 337.6 L140.1 340.3 L139.7 337.7 L139.3 339.4 L138.9 339.9 L138.5 340.3 L138.1 339.0 L137.7 339.3 L137.3 339.4 L136.9 340.1 L136.5 341.5 L136.1 341.3 L135.7 338.8 L135.3 337.9 L134.9 338.1 L134.5 342.8 L134.1 343.0 L133.7 342.6 L133.3 337.6 L132.9 338.7 L132.5 338.0 L132.1 337.9 L131.7 337.7 L131.3 335.7 L130.9 335.5 L130.5 333.2 L130.1 333.6 L129.7 333.1 L129.3 332.9 L128.9 336.3 L128.5 337.0 L128.1 339.3 L127.7 339.3 L127.3 338.6 L126.9 337.8 L126.5 338.0 L126.1 338.2 L125.7 338.5 L125.3 337.8 L124.9 336.3 L124.5 336.4 L124.1 337.6 L123.7 338.8 L123.3 337.0 L122.9 339.3 L122.5 340.2 L122.1 340.6 L121.7 340.4 L121.3 340.5 L120.9 341.9 L120.5 339.6 L120.1 341.2 L119.7 341.0 L119.3 342.9 L118.9 339.1 L118.5 337.8 L118.1 338.7 L117.7 338.6 L117.3 336.1 L116.9 334.7 L116.5 338.9 L116.1 338.7 L115.7 336.2 L115.3 335.3 L114.9 335.7 L114.5 336.1 L114.1 339.1 L113.7 339.3 L113.3 344.1 L112.9 346.0 L112.5 348.2 L112.1 343.3 L111.7 344.4 L111.3 342.7 L110.9 344.1 L110.5 343.2 L110.1 341.5 L109.7 341.3 L109.3 342.1 L108.9 342.3 L108.5 341.7 L108.1 341.2 L107.7 339.7 L107.3 338.8 L106.9 341.8 L106.5 342.3 L106.1 342.1 L105.7 337.0 L105.3 339.7 L104.9 338.4 L104.5 339.9 L104.1 336.1 L103.7 336.2 L103.3 337.6 L102.9 338.2 L102.5 338.3 L102.1 341.7 L101.7 342.7 L101.3 343.5 L100.9 339.3 L100.5 333.6 L100.1 332.7 L99.7 332.2 L99.3 336.1 L98.9 338.8 L98.5 339.8 L98.1 339.4 L97.7 340.3 L97.3 339.4 L96.9 341.1 L96.5 340.6 L96.1 342.8 L95.7 344.1 L95.3 345.2 L94.9 342.5 L94.5 342.5 L94.1 342.4 L93.7 342.6 L93.3 342.6Z" fill="#000"/>
<line x1="183.2" y1="237.0" x2="183.2" y2="310.8" stroke="#666" stroke-width="0.70"/>
<line x1="115.3" y1="241.0" x2="115.3" y2="270.0" stroke="#bbb" stroke-width="0.70"/>
<line x1="129.6" y1="246.0" x2="129.6" y2="275.0" stroke="#ddd" stroke-width="0.50"/>
<line x1="208.0" y1="262.0" x2="208.0" y2="316.0" stroke="#444" stroke-width="0.90"/>
<line x1="211.2" y1="266.0" x2="211.2" y2="312.0" stroke="#fff" stroke-width="1.00"/>
<text x="280.3" y="213.8" font-size="14.50" text-anchor="start" font-weight="bold" font-style="normal" fill="#000">E</text>
<line x1="315.6" y1="234.0" x2="315.6" y2="350.2" stroke="#222" stroke-width="1.00"/>
<line x1="315.1" y1="349.8" x2="447.0" y2="349.8" stroke="#222" stroke-width="1.00"/>
<line x1="312.3" y1="349.5" x2="315.6" y2="349.5" stroke="#222" stroke-width="0.90"/>
<text x="308.7" y="354.9" font-size="8.90" text-anchor="end" font-weight="normal" font-style="normal" fill="#1a1a1a" stroke="#1a1a1a" stroke-width="0.22">0.0</text>
<line x1="312.3" y1="330.4" x2="315.6" y2="330.4" stroke="#222" stroke-width="0.90"/>
<text x="308.7" y="335.5" font-size="8.90" text-anchor="end" font-weight="normal" font-style="normal" fill="#1a1a1a" stroke="#1a1a1a" stroke-width="0.22">0.2</text>
<line x1="312.3" y1="311.2" x2="315.6" y2="311.2" stroke="#222" stroke-width="0.90"/>
<text x="308.7" y="316.1" font-size="8.90" text-anchor="end" font-weight="normal" font-style="normal" fill="#1a1a1a" stroke="#1a1a1a" stroke-width="0.22">0.4</text>
<line x1="312.3" y1="292.1" x2="315.6" y2="292.1" stroke="#222" stroke-width="0.90"/>
<text x="308.7" y="296.7" font-size="8.90" text-anchor="end" font-weight="normal" font-style="normal" fill="#1a1a1a" stroke="#1a1a1a" stroke-width="0.22">0.6</text>
<line x1="312.3" y1="272.9" x2="315.6" y2="272.9" stroke="#222" stroke-width="0.90"/>
<text x="308.7" y="277.3" font-size="8.90" text-anchor="end" font-weight="normal" font-style="normal" fill="#1a1a1a" stroke="#1a1a1a" stroke-width="0.22">0.8</text>
<line x1="312.3" y1="253.8" x2="315.6" y2="253.8" stroke="#222" stroke-width="0.90"/>
<text x="308.7" y="257.9" font-size="8.90" text-anchor="end" font-weight="normal" font-style="normal" fill="#1a1a1a" stroke="#1a1a1a" stroke-width="0.22">1.0</text>
<line x1="312.3" y1="234.6" x2="315.6" y2="234.6" stroke="#222" stroke-width="0.90"/>
<text x="308.7" y="238.5" font-size="8.90" text-anchor="end" font-weight="normal" font-style="normal" fill="#1a1a1a" stroke="#1a1a1a" stroke-width="0.22">1.2</text>
<text x="290.4" y="297.4" font-size="8.00" text-anchor="middle" font-weight="normal" font-style="normal" fill="#1a1a1a" transform="rotate(-90 290.4 297.4)" textLength="87" lengthAdjust="spacingAndGlyphs" stroke="#1a1a1a" stroke-width="0.22">RRRVSP (mmHg/sec)</text>
<line x1="344.3" y1="239.5" x2="428.0" y2="239.5" stroke="#111" stroke-width="1.00"/>
<text x="392.6" y="233.3" font-size="8.60" text-anchor="middle" font-weight="normal" font-style="italic" fill="#222" stroke="#222" stroke-width="0.22">ThCD59<tspan font-size="5.2" dy="-2.6">RBC</tspan></text>
<rect x="333.6" y="276.0" width="19.0" height="73.8" fill="#fff" stroke="#1a1a1a" stroke-width="1.1"/>
<line x1="344.2" y1="257.8" x2="344.2" y2="276.0" stroke="#1a1a1a" stroke-width="1.00"/>
<line x1="342.0" y1="258.1" x2="346.4" y2="258.1" stroke="#1a1a1a" stroke-width="1.10"/>
<rect x="373.8" y="328.3" width="18.7" height="21.5" fill="#fff" stroke="#1a1a1a" stroke-width="1.1"/>
<line x1="383.7" y1="319.0" x2="383.7" y2="328.3" stroke="#1a1a1a" stroke-width="1.00"/>
<line x1="381.5" y1="319.3" x2="385.9" y2="319.3" stroke="#1a1a1a" stroke-width="1.10"/>
<rect x="414.0" y="317.0" width="18.6" height="32.8" fill="#fff" stroke="#1a1a1a" stroke-width="1.1"/>
<line x1="423.6" y1="310.6" x2="423.6" y2="317.0" stroke="#1a1a1a" stroke-width="1.00"/>
<line x1="421.4" y1="310.9" x2="425.8" y2="310.9" stroke="#1a1a1a" stroke-width="1.10"/>
<text x="345.3" y="251.3" font-size="8.60" text-anchor="middle" font-weight="normal" font-style="normal" fill="#222" stroke="#222" stroke-width="0.22">n=7</text>
<text x="385.0" y="315.2" font-size="8.60" text-anchor="middle" font-weight="normal" font-style="normal" fill="#222" stroke="#222" stroke-width="0.22">n=4</text>
<text x="422.8" y="306.0" font-size="8.60" text-anchor="middle" font-weight="normal" font-style="normal" fill="#222" stroke="#222" stroke-width="0.22">n=4</text>
<circle cx="383.3" cy="300" r="1.2" fill="#222"/>
<circle cx="423.8" cy="293" r="1.2" fill="#222"/>
<text x="344.5" y="364.1" font-size="8.80" text-anchor="middle" font-weight="normal" font-style="normal" fill="#333" stroke="#333" stroke-width="0.22">ILY<tspan font-size="5.3" dy="2.1">140</tspan><tspan dy="-2.1">FI</tspan></text>
<text x="384.6" y="364.1" font-size="8.80" text-anchor="middle" font-weight="normal" font-style="normal" fill="#333" stroke="#333" stroke-width="0.22">ILY<tspan font-size="5.3" dy="2.1">140</tspan><tspan dy="-2.1">SI</tspan></text>
<text x="424.2" y="366.0" font-size="8.80" text-anchor="middle" font-weight="normal" font-style="normal" fill="#333" stroke="#333" stroke-width="0.22">ILY<tspan font-size="5.3" dy="2.1">70</tspan><tspan dy="-2.1">FI</tspan></text>
</svg>
</body>
</html>
